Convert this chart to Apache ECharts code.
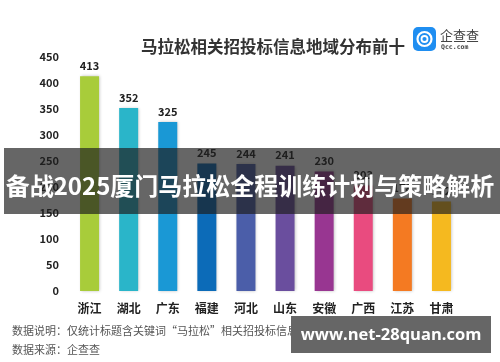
<!DOCTYPE html>
<html><head><meta charset="utf-8">
<script src="https://cdn.jsdelivr.net/npm/echarts@6/dist/echarts.min.js"></script>
<style>html,body{margin:0;padding:0;background:#fff}#c{width:500px;height:362px}</style>
</head><body><div id="c"></div>
<script>
const categories = ['浙江','湖北','广东','福建','河北','山东','安徽','广西','江苏','甘肃'];
const values = [413, 352, 325, 245, 244, 241, 230, 203, 178, 172];
const barColors = ['#a8cc3a','#2ab5c9','#1a98d5','#0c6bb8','#4b5ea9','#6a4e9e','#983691','#e94b7f','#f47a22','#f5b91f'];
const yTicks = [0, 50, 100, 150, 200, 250, 300, 350, 400, 450];
const titleText = '马拉松相关招投标信息地域分布前十';
const note1 = '数据说明：仅统计标题含关键词“马拉松”相关招投标信息';
const note2 = '数据来源：企查查';
const bannerText = '备战2025厦门马拉松全程训练计划与策略解析';
const watermark = 'www.net-28quan.com';

const font = '"Noto Sans CJK SC", "Noto Sans", sans-serif';
const chart = echarts.init(document.getElementById('c'));
chart.setOption({
  animation: false,
  title: {text: titleText, left: 268, top: 33, textAlign: 'center',
    textStyle: {fontFamily: font, fontSize: 16.5, fontWeight: 'bold', color: '#333'}},
  grid: {left: 70, right: 39, top: 57, bottom: 71},
  xAxis: {type: 'category', data: categories,
    axisLine: {show: false}, axisTick: {show: false},
    axisLabel: {fontFamily: font, fontSize: 12, fontWeight: 'bold', color: '#222', margin: 11}},
  yAxis: {type: 'value', min: 0, max: 450, interval: 50,
    axisLine: {show: false}, axisTick: {show: false}, splitLine: {show: false},
    axisLabel: {fontFamily: font, fontSize: 11, fontWeight: 'bold', color: '#222', margin: 11,
      formatter: v => yTicks.includes(v) ? String(v) : ''}},
  series: [{type: 'bar', barWidth: 19,
    data: values.map((v, i) => ({value: v, itemStyle: {color: barColors[i]}})),
    itemStyle: {shadowColor: 'rgba(0,0,0,0.25)', shadowBlur: 3, shadowOffsetX: 1, shadowOffsetY: 0},
    label: {show: true, position: 'top', distance: 5, fontFamily: font, fontSize: 11, fontWeight: 'bold', color: '#222'}}],
  graphic: [
    {type: 'text', style: {x: 12, y: 331, text: note1, textVerticalAlign: 'middle', font: '11px ' + font, fill: '#555'}},
    {type: 'text', style: {x: 12, y: 350, text: note2, textVerticalAlign: 'middle', font: '11px ' + font, fill: '#555'}},
    {type: 'rect', shape: {x: 413, y: 27, width: 23, height: 24, r: 5}, style: {fill: '#1f8ef1'}},
    {type: 'circle', shape: {cx: 424.5, cy: 39, r: 7}, style: {fill: 'none', stroke: '#fff', lineWidth: 2.2}},
    {type: 'circle', shape: {cx: 424.5, cy: 39, r: 3}, style: {fill: 'none', stroke: '#fff', lineWidth: 1.8}},
    {type: 'text', style: {x: 440, y: 35, text: '企查查', textVerticalAlign: 'middle', font: '13px ' + font, fill: '#444'}},
    {type: 'text', style: {x: 441, y: 47, text: 'Qcc.com', textVerticalAlign: 'middle', font: 'bold 6.5px "DejaVu Sans Mono", monospace', fill: '#444'}},
    {type: 'rect', shape: {x: 4, y: 148, width: 496, height: 66}, style: {fill: 'rgba(30,30,30,0.68)'}, z: 100},
    {type: 'text', z: 101, style: {x: 250, y: 186, text: bannerText, textAlign: 'center', textVerticalAlign: 'middle',
      font: 'bold 24px ' + font, fill: '#fff'}},
    {type: 'rect', shape: {x: 291, y: 316, width: 200, height: 37}, style: {fill: '#666'}, z: 100},
    {type: 'text', z: 101, style: {x: 391, y: 335, text: watermark, textAlign: 'center', textVerticalAlign: 'middle',
      font: 'bold 16.5px "Open Sans", "DejaVu Sans", sans-serif', fill: '#fff'}}
  ]
});
</script></body></html>
